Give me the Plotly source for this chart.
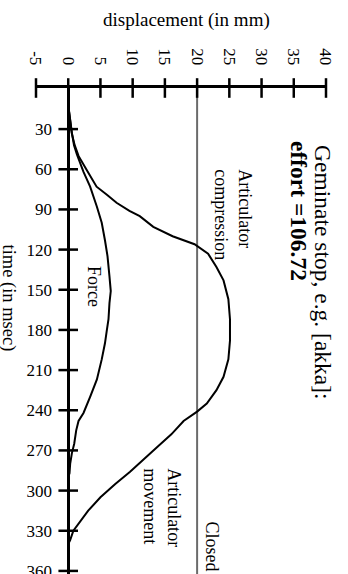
import plotly.graph_objects as go

# Displacement axis (horizontal) and time axis (vertical, increasing downward)
disp_ticks = [-5, 0, 5, 10, 15, 20, 25, 30, 35, 40]
disp_labels = ["-5", "0", "5", "10", "15", "20", "25", "30", "35", "40"]
time_ticks = [30, 60, 90, 120, 150, 180, 210, 240, 270, 300, 330, 360]
time_labels = [str(v) for v in time_ticks]

# Articulator movement / compression trajectory (ms, mm)
artic_time = [12, 20, 33, 42, 50, 60, 73, 79, 85, 91, 95, 103, 110, 116, 123,
              133, 143, 157, 172, 188, 202, 215, 225, 235, 241, 248, 258, 267,
              276, 286, 295, 305, 315, 323, 330, 337, 340]
artic_disp = [0, 0.2, 0.55, 1.0, 1.6, 2.8, 4.4, 6.0, 7.5, 9.5, 11.1, 13.2, 16.2,
              19.6, 21.7, 23.0, 24.1, 24.85, 25.1, 25.1, 24.85, 24.1, 23.0, 21.5,
              20.0, 17.9, 16.0, 13.9, 11.8, 9.6, 7.3, 5.0, 3.1, 1.8, 0.8, 0.3, 0]

# Force trajectory (ms, mm equivalent)
force_time = [12, 20, 33, 42, 49, 62, 73, 88, 100, 113, 125, 140, 151, 160, 172,
              180, 190, 202, 217, 230, 242, 248, 255, 265, 272, 280, 287, 290]
force_disp = [0, 0.2, 0.57, 0.9, 1.35, 2.37, 3.4, 4.45, 5.2, 5.7, 6.1, 6.4, 6.6,
              6.4, 6.25, 6.0, 5.7, 5.2, 4.45, 3.4, 2.37, 1.6, 1.24, 0.93, 0.57,
              0.3, 0.2, 0]

closed_level = 20
x_range = [-5, 40]
t_range = [362.3, -0.7]

FONT = "Liberation Serif, Times New Roman, serif"

fig = go.Figure()

fig.add_trace(go.Scatter(x=force_disp, y=force_time, mode="lines",
                         line=dict(color="black", width=2), showlegend=False))
fig.add_trace(go.Scatter(x=artic_disp, y=artic_time, mode="lines",
                         line=dict(color="black", width=2), showlegend=False))

# Cross-shaped tick marks on both axes
fig.add_trace(go.Scatter(x=disp_ticks, y=[t_range[1]] * len(disp_ticks), mode="markers",
                         marker=dict(symbol="line-ns", size=14,
                                     line=dict(color="black", width=2.5)),
                         cliponaxis=False, showlegend=False, hoverinfo="skip"))
fig.add_trace(go.Scatter(x=[0] * len(time_ticks), y=time_ticks, mode="markers",
                         marker=dict(symbol="line-ew", size=14,
                                     line=dict(color="black", width=2.5)),
                         cliponaxis=False, showlegend=False, hoverinfo="skip"))

# "Closed" reference line
fig.add_shape(type="line", x0=closed_level, x1=closed_level, y0=0, y1=1,
              xref="x", yref="paper", line=dict(color="#6b6b6b", width=2),
              layer="below")

ann = [
    dict(text="Geminate stop, e.g. [akka]:", x=39.5, y=137.4, size=23.5),
    dict(text="<b>effort =106.72</b>", x=35.7, y=91.4, size=23.5),
    dict(text="Articulator<br>compression", x=25.6, y=93.7, size=18),
    dict(text="Force", x=3.9, y=147.5, size=18),
    dict(text="Articulator<br>movement", x=14.6, y=312.6, size=18),
    dict(text="Closed", x=22.25, y=341.4, size=18),
]
for a in ann:
    fig.add_annotation(text=a["text"], x=a["x"], y=a["y"], xref="x", yref="y",
                       textangle=90, showarrow=False, align="left",
                       xanchor="center", yanchor="middle",
                       font=dict(family=FONT, size=a["size"], color="black"))

# Axis titles
fig.add_annotation(text="displacement (in mm)", x=0.5177, y=1.1406, xref="paper",
                   yref="paper", showarrow=False, xanchor="center", yanchor="middle",
                   font=dict(family=FONT, size=19, color="black"))
fig.add_annotation(text="time (in msec)", x=-0.0937, y=0.5672, xref="paper",
                   yref="paper", showarrow=False, textangle=90, xanchor="center",
                   yanchor="middle", font=dict(family=FONT, size=18.5, color="black"))

fig.update_layout(
    width=348, height=574,
    margin=dict(l=35.7, r=22, t=88.3, b=0, pad=0, autoexpand=False),
    paper_bgcolor="white", plot_bgcolor="white",
    showlegend=False,
    font=dict(family=FONT, size=17, color="black"),
    xaxis=dict(range=x_range, side="top", showgrid=False, zeroline=False,
               automargin=False,
               showline=True, linecolor="black", linewidth=2.5,
               tickmode="array", tickvals=disp_ticks, ticktext=disp_labels,
               ticks="", tickangle=90, ticklabelstandoff=14,
               tickfont=dict(family=FONT, size=17, color="black")),
    yaxis=dict(range=t_range, showgrid=False, zeroline=False,
               automargin=False,
               showline=True, linecolor="black", linewidth=2.5,
               anchor="free", position=5 / 45,
               tickmode="array", tickvals=time_ticks, ticktext=time_labels,
               ticks="", ticklabelstandoff=12, ticklabeloverflow="allow",
               tickfont=dict(family=FONT, size=17, color="black")),
)

fig.write_html("out.html")
